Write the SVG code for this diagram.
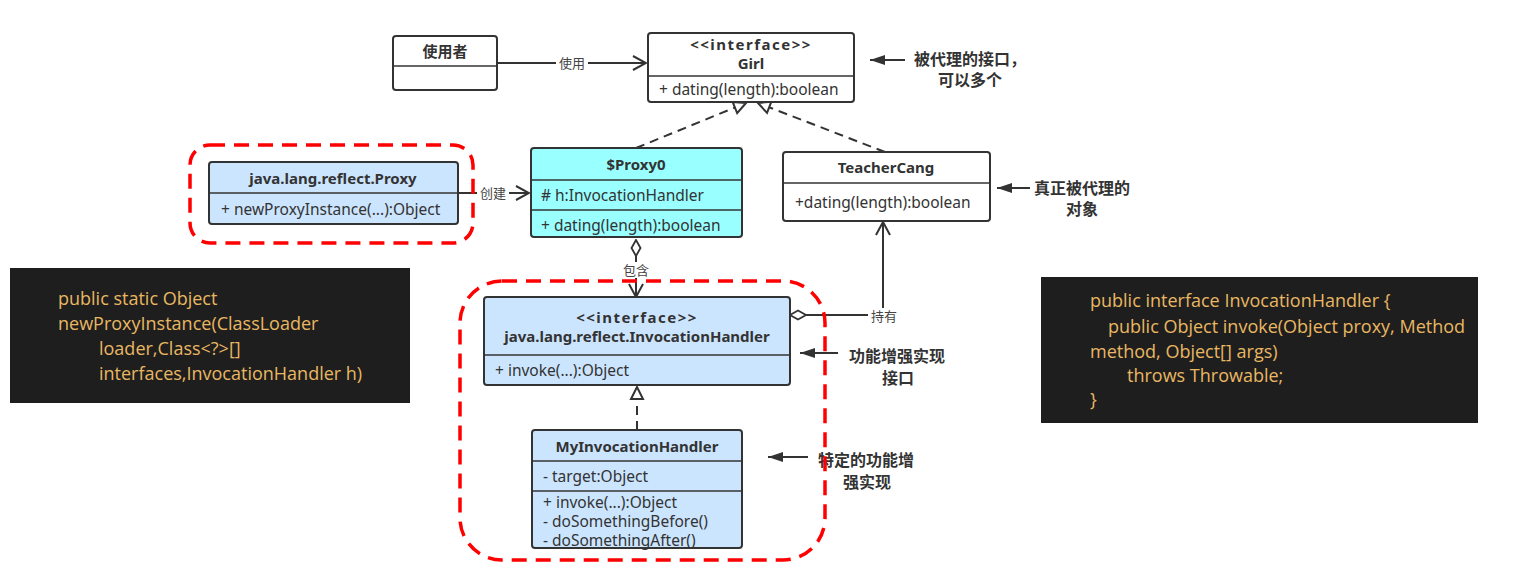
<svg xmlns="http://www.w3.org/2000/svg" width="1518" height="580" viewBox="0 0 1518 580">
<style>
.box{stroke:#333;stroke-width:2;}
.div{stroke:#333;stroke-width:1.5;}
.t{font-family:"Noto Sans","Noto Sans CJK SC",sans-serif;font-size:15.5px;fill:#333;}
.b{font-weight:bold;font-size:15px;}
.c{text-anchor:middle;}
.ann{font-family:"Noto Sans CJK SC","Noto Sans",sans-serif;font-size:16px;font-weight:bold;fill:#333;}
.lbl{font-family:"Noto Sans CJK SC","Noto Sans",sans-serif;font-size:13px;fill:#444;text-anchor:middle;}
.code{font-family:"Open Sans","Liberation Sans",sans-serif;font-size:18px;fill:#e9b762;}
.con{fill:none;stroke:#333;stroke-width:2;}
.dash{stroke-dasharray:9 6;}
.red{fill:none;stroke:#ff0000;stroke-width:3.5;stroke-dasharray:15 9;}
</style>
<defs>
<marker id="open" markerUnits="userSpaceOnUse" markerWidth="16" markerHeight="16" viewBox="0 0 16 16" refX="15" refY="8" orient="auto"><path d="M2,1 L15,8 L2,15" fill="none" stroke="#333" stroke-width="2"/></marker>
<marker id="tri" markerUnits="userSpaceOnUse" markerWidth="16" markerHeight="16" viewBox="0 0 16 16" refX="14" refY="8" orient="auto"><path d="M2,2 L14,8 L2,14 Z" fill="#fff" stroke="#333" stroke-width="2"/></marker>
<marker id="fill" markerUnits="userSpaceOnUse" markerWidth="16" markerHeight="12" viewBox="0 0 16 12" refX="15" refY="6" orient="auto"><path d="M0,1 L15,6 L0,11 Z" fill="#333"/></marker>
<marker id="dia" markerUnits="userSpaceOnUse" markerWidth="18" markerHeight="12" viewBox="0 0 18 12" refX="1" refY="6" orient="auto"><path d="M1,6 L9,1.5 L17,6 L9,10.5 Z" fill="#fff" stroke="#333" stroke-width="1.8"/></marker>
</defs>
<rect width="1518" height="580" fill="#fff"/>

<g id="code-left">
<rect x="10" y="268" width="400" height="135" fill="#1e1e1e"/>
<text class="code" x="58" y="305">public static Object</text>
<text class="code" x="58" y="330">newProxyInstance(ClassLoader</text>
<text class="code" x="99" y="355">loader,Class&lt;?&gt;[]</text>
<text class="code" x="99" y="380">interfaces,InvocationHandler h)</text>
</g>
<g id="code-right">
<rect x="1041" y="277" width="437" height="146" fill="#1e1e1e"/>
<text class="code" x="1090" y="307">public interface InvocationHandler {</text>
<text class="code" x="1108" y="333">public Object invoke(Object proxy, Method</text>
<text class="code" x="1090" y="358">method, Object[] args)</text>
<text class="code" x="1127" y="382">throws Throwable;</text>
<text class="code" x="1090" y="406">}</text>
</g>

<g id="connectors">
<path class="con" d="M497,63 H646" marker-end="url(#open)"/>
<path class="con" d="M458,193 H529" marker-end="url(#open)"/>
<path class="con dash" d="M636,148 L746,103" marker-end="url(#tri)"/>
<path class="con dash" d="M885,152 L758,103" marker-end="url(#tri)"/>
<path class="con" d="M636,240 V297" marker-start="url(#dia)" marker-end="url(#open)"/>
<path class="con" d="M790,315 H883 V222" marker-start="url(#dia)" marker-end="url(#open)"/>
<path class="con dash" d="M637,430 V387" marker-end="url(#tri)"/>
<rect x="556" y="55" width="32" height="16" fill="#fff"/>
<text class="lbl" x="572" y="68">使用</text>
<rect x="477" y="185" width="32" height="16" fill="#fff"/>
<text class="lbl" x="493" y="198">创建</text>
<rect x="620" y="262" width="32" height="16" fill="#fff"/>
<text class="lbl" x="636" y="275">包含</text>
<rect x="868" y="308" width="32" height="16" fill="#fff"/>
<text class="lbl" x="884" y="321">持有</text>
<path class="con" d="M905,60 H870" marker-end="url(#fill)"/>
<path class="con" d="M1030,188 H997" marker-end="url(#fill)"/>
<path class="con" d="M838,353 H800" marker-end="url(#fill)"/>
<path class="con" d="M808,457 H768" marker-end="url(#fill)"/>
</g>

<g id="user">
<rect class="box" x="393" y="36" width="104" height="54" rx="3" fill="#fff"/>
<line class="div" x1="393" y1="66" x2="497" y2="66"/>
<text class="t b c" x="445" y="57">使用者</text>
</g>

<g id="girl">
<rect class="box" x="648" y="33" width="206" height="69" rx="3" fill="#fff"/>
<line class="div" x1="648" y1="76" x2="854" y2="76"/>
<text class="t b c" x="751" y="50" letter-spacing="1.5">&lt;&lt;interface&gt;&gt;</text>
<text class="t b c" x="751" y="69">Girl</text>
<text class="t" x="659" y="95">+ dating(length):boolean</text>
</g>
<g id="ann-girl">
<text class="ann" x="914" y="65">被代理的接口，</text>
<text class="ann c" x="970" y="86">可以多个</text>
</g>

<g id="proxy">
<rect class="box" x="209" y="162" width="249" height="62" rx="3" fill="#cce5ff"/>
<line class="div" x1="209" y1="193" x2="458" y2="193"/>
<text class="t b c" x="333" y="184">java.lang.reflect.Proxy</text>
<text class="t" x="221" y="215">+ newProxyInstance(...):Object</text>
</g>

<g id="proxy0">
<rect class="box" x="531" y="148" width="211" height="89" rx="3" fill="#99ffff"/>
<line class="div" x1="531" y1="180" x2="742" y2="180"/>
<line class="div" x1="531" y1="210" x2="742" y2="210"/>
<text class="t b c" x="636" y="170">$Proxy0</text>
<text class="t" x="541" y="201"># h:InvocationHandler</text>
<text class="t" x="541" y="231">+ dating(length):boolean</text>
</g>

<g id="teacher">
<rect class="box" x="783" y="152" width="207" height="69" rx="3" fill="#fff"/>
<line class="div" x1="783" y1="183" x2="990" y2="183"/>
<text class="t b c" x="886" y="173">TeacherCang</text>
<text class="t" x="795" y="208">+dating(length):boolean</text>
</g>
<g id="ann-teacher">
<text class="ann" x="1034" y="194">真正被代理的</text>
<text class="ann c" x="1082" y="215">对象</text>
</g>

<g id="invocationhandler">
<rect class="box" x="484" y="297" width="306" height="88" rx="3" fill="#cce5ff"/>
<line class="div" x1="484" y1="355" x2="790" y2="355"/>
<text class="t b c" x="637" y="323" letter-spacing="1.5">&lt;&lt;interface&gt;&gt;</text>
<text class="t b c" x="637" y="342">java.lang.reflect.InvocationHandler</text>
<text class="t" x="495" y="376">+ invoke(...):Object</text>
</g>
<g id="ann-ih">
<text class="ann" x="849" y="362">功能增强实现</text>
<text class="ann c" x="898" y="384">接口</text>
</g>

<g id="myhandler">
<rect class="box" x="532" y="430" width="210" height="118" rx="3" fill="#cce5ff"/>
<line class="div" x1="532" y1="461" x2="742" y2="461"/>
<line class="div" x1="532" y1="491" x2="742" y2="491"/>
<text class="t b c" x="637" y="452">MyInvocationHandler</text>
<text class="t" x="543" y="482">- target:Object</text>
<text class="t" x="543" y="508">+ invoke(...):Object</text>
<text class="t" x="543" y="527">-  doSomethingBefore()</text>
<text class="t" x="543" y="546">-  doSomethingAfter()</text>
</g>
<g id="ann-my">
<text class="ann" x="818" y="466">特定的功能增</text>
<text class="ann c" x="867" y="488">强实现</text>
</g>

<g id="highlights">
<rect class="red" x="190" y="145" width="283" height="98" rx="20"/>
<rect class="red" x="460" y="281" width="365" height="279" rx="42"/>
</g>
</svg>
